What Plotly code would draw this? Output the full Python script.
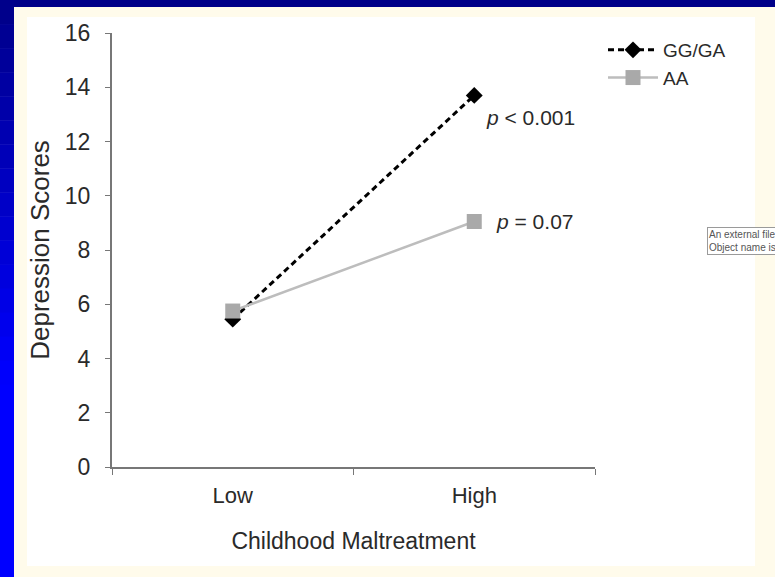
import plotly.graph_objects as go

# data
categories = ["Low", "High"]
gg_ga = [5.45, 13.7]
aa = [5.75, 9.05]
p_labels = ["<i>p</i> < 0.001", "<i>p</i> = 0.07"]
p_y = [12.9, 9.05]
y_ticks = [0, 2, 4, 6, 8, 10, 12, 14, 16]

W, H = 775, 577
L, R, T, B = 112, 180, 33, 110
PW, PH = W - L - R, H - T - B


def px(x):
    return (x - L) / PW


def py(y):
    return (H - B - y) / PH


FONT = "Liberation Sans, Arial, sans-serif"
TXT = "#2a2a2a"

fig = go.Figure()
fig.add_trace(
    go.Scatter(
        x=categories,
        y=gg_ga,
        name="GG/GA",
        mode="lines+markers",
        line=dict(color="black", width=3, dash="6px,4px"),
        marker=dict(symbol="diamond", size=13, color="black"),
    )
)
fig.add_trace(
    go.Scatter(
        x=categories,
        y=aa,
        name="AA",
        mode="lines+markers",
        line=dict(color="#bdbdbd", width=2.5),
        marker=dict(symbol="square", size=15, color="#a9a9a9"),
    )
)

fig.add_annotation(x="High", y=p_y[0], text=p_labels[0], showarrow=False,
                   xanchor="left", xshift=10, font=dict(size=21, color=TXT))
fig.add_annotation(x="High", y=p_y[1], text=p_labels[1], showarrow=False,
                   xanchor="left", xshift=20, font=dict(size=21, color=TXT))

# stray tooltip from the source page
fig.add_annotation(
    xref="paper", yref="paper", x=px(707), y=py(227), xanchor="left", yanchor="top",
    text="An external file<br>Object name is",
    showarrow=False, align="left", font=dict(size=10, color="#555", family="Liberation Sans"),
    bordercolor="#9a9a9a", borderwidth=1, bgcolor="white", borderpad=1,
)

shapes = [
    # white picture area
    dict(type="rect", xref="paper", yref="paper", x0=px(27), x1=px(755),
         y0=py(566), y1=py(17), fillcolor="white", line_width=0, layer="below"),
    # top navy band
    dict(type="rect", xref="paper", yref="paper", x0=px(0), x1=px(W),
         y0=py(7), y1=py(0), fillcolor="#000088", line_width=0, layer="below"),
]
# left band, navy at top fading into bright blue
n = 24
for i in range(n):
    y0, y1 = i * H / n, (i + 1) * H / n
    t = min(1.0, (y0 + y1) / 2 / 380)
    b = int(0x88 + (0xFF - 0x88) * t)
    shapes.append(dict(type="rect", xref="paper", yref="paper", x0=px(0), x1=px(14),
                       y0=py(y1 + 0.5), y1=py(y0), fillcolor=f"#0000{b:02x}",
                       line_width=0, layer="below"))

fig.update_layout(
    width=W,
    height=H,
    margin=dict(l=L, r=R, t=T, b=B),
    paper_bgcolor="#fffbeb",
    plot_bgcolor="rgba(0,0,0,0)",
    font=dict(family=FONT, size=18, color=TXT),
    shapes=shapes,
    showlegend=True,
    legend=dict(
        x=px(603), y=py(31), xanchor="left", yanchor="top",
        bgcolor="rgba(0,0,0,0)", font=dict(size=19, color=TXT),
        itemwidth=50, tracegroupgap=0,
    ),
    xaxis=dict(
        range=[-0.5, 1.5],
        tickson="boundaries",
        ticks="outside",
        ticklen=6,
        tickcolor="#777",
        showline=True,
        linecolor="#777",
        linewidth=2,
        showgrid=False,
        zeroline=False,
        tickfont=dict(size=22),
        ticklabelstandoff=8,
        title=dict(text="Childhood Maltreatment", font=dict(size=23), standoff=25),
    ),
    yaxis=dict(
        range=[0, 16],
        tickvals=y_ticks,
        ticks="outside",
        ticklen=5,
        tickcolor="#777",
        showline=True,
        linecolor="#777",
        linewidth=2,
        showgrid=False,
        zeroline=False,
        tickfont=dict(size=23),
        ticklabelstandoff=10,
        title=dict(text="Depression Scores", font=dict(size=26), standoff=8),
    ),
)

fig.write_html("out.html", config={"displayModeBar": False},
               post_script="document.body.style.margin='0';")
